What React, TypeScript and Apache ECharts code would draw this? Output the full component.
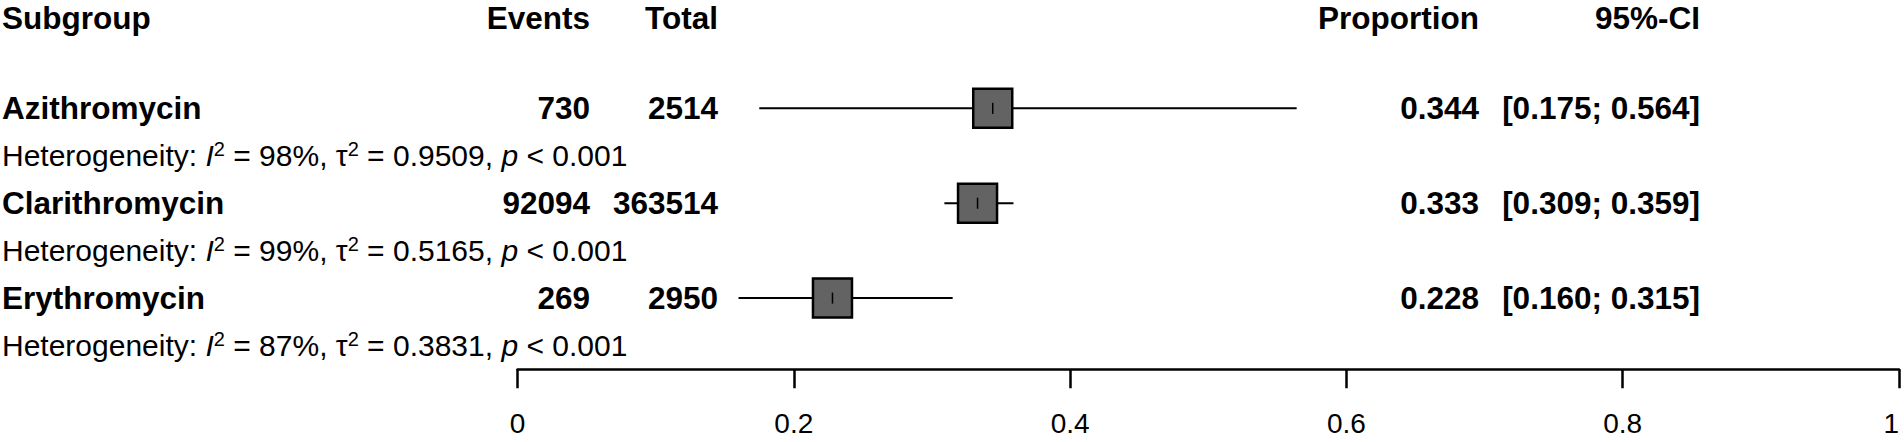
import React, { useEffect, useRef } from "react";
import * as echarts from "echarts";

// ---------- data ----------
const headerLabels = ["Subgroup", "Events", "Total", "Proportion", "95%-CI"];
const subgroups = ["Azithromycin", "Clarithromycin", "Erythromycin"];
const events = [730, 92094, 269];
const totals = [2514, 363514, 2950];
const proportions = [0.344, 0.333, 0.228];
const ciLower = [0.175, 0.309, 0.16];
const ciUpper = [0.564, 0.359, 0.315];
const i2Values = ["98%", "99%", "87%"];
const tau2Values = ["0.9509", "0.5165", "0.3831"];
const pValues = ["< 0.001", "< 0.001", "< 0.001"];

// ---------- layout / style ----------
const FONT = '"Liberation Sans", Arial, Helvetica, sans-serif';
const BOLD_SIZE = 31.5;
const REG_SIZE = 30;
const AXIS_SIZE = 28;
const COL_X = [2, 590, 718, 1479, 1700]; // label (left), events/total/prop/ci (right)
const COL_ALIGN = ["left", "right", "right", "right", "right"];
const HEADER_OFFSET = 4.5;
const BOX = 39;
const BOX_FILL = "#636363";

export default function App() {
  const ref = useRef<HTMLDivElement>(null);

  useEffect(() => {
    document.body.style.margin = "0";
    if (!ref.current) return;
    const chart = echarts.init(ref.current, undefined, { renderer: "svg" });

    const textEl = (x: number, y: number, text: string, align: string, bold = true) => ({
      type: "text",
      x,
      y,
      style: {
        text,
        fill: "#000",
        fontFamily: FONT,
        fontSize: bold ? BOLD_SIZE : REG_SIZE,
        fontWeight: bold ? "bold" : "normal",
        lineHeight: 26,
        align,
        verticalAlign: "middle",
      },
    });

    const rowData = subgroups.map((_, i) => [proportions[i], 2 + 2 * i, i]);

    const option = {
      animation: false,
      backgroundColor: "#fff",
      grid: {
        left: 517.5,
        right: 5,
        top: 13.5,
        bottom: 72.75,
        containLabel: false,
        outerBoundsMode: "none",
      },
      xAxis: {
        type: "value",
        min: 0,
        max: 1,
        interval: 0.2,
        position: "bottom",
        splitLine: { show: false },
        axisLine: { show: true, onZero: false, lineStyle: { color: "#000", width: 2.5 } },
        axisTick: { show: true, length: 19, lineStyle: { color: "#000", width: 2.5 } },
        axisLabel: {
          color: "#000",
          fontSize: AXIS_SIZE,
          fontFamily: FONT,
          margin: 40,
          showMinLabel: true,
          showMaxLabel: true,
          alignMaxLabel: "right",
        },
      },
      yAxis: {
        type: "value",
        min: 0,
        max: 7.5,
        inverse: true,
        show: false,
      },
      series: [
        {
          type: "custom",
          clip: false,
          data: [[0, 0]],
          renderItem: (params: any, api: any) => {
            const y = api.coord([0, 0])[1] + HEADER_OFFSET;
            return {
              type: "group",
              children: headerLabels.map((h, k) => textEl(COL_X[k], y, h, COL_ALIGN[k])),
            };
          },
        },
        {
          type: "custom",
          clip: false,
          data: rowData,
          renderItem: (params: any, api: any) => {
            const i = api.value(2);
            const line = api.value(1);
            const [px, y] = api.coord([api.value(0), line]);
            const lo = api.coord([ciLower[i], line])[0];
            const hi = api.coord([ciUpper[i], line])[0];
            const hetY = api.coord([0, line + 1])[1];
            const half = BOX / 2;
            const ciText = `[${ciLower[i].toFixed(3)}; ${ciUpper[i].toFixed(3)}]`;
            const het = `Heterogeneity: {it|I}{sup|2} = ${i2Values[i]}, τ{sup|2} = ${tau2Values[i]}, {it|p} ${pValues[i]}`;
            return {
              type: "group",
              children: [
                {
                  type: "line",
                  shape: { x1: lo, y1: y, x2: hi, y2: y },
                  style: { stroke: "#000", lineWidth: 2 },
                },
                {
                  type: "rect",
                  shape: { x: px - half, y: y - half, width: BOX, height: BOX },
                  style: { fill: BOX_FILL, stroke: "#000", lineWidth: 2.5 },
                },
                {
                  type: "line",
                  shape: { x1: px, y1: y - 5.5, x2: px, y2: y + 5.5 },
                  style: { stroke: "#000", lineWidth: 1.5 },
                },
                textEl(COL_X[0], y, subgroups[i], "left"),
                textEl(COL_X[1], y, String(events[i]), "right"),
                textEl(COL_X[2], y, String(totals[i]), "right"),
                textEl(COL_X[3], y, proportions[i].toFixed(3), "right"),
                textEl(COL_X[4], y, ciText, "right"),
                {
                  type: "text",
                  x: COL_X[0],
                  y: hetY,
                  style: {
                    text: het,
                    fill: "#000",
                    fontFamily: FONT,
                    fontSize: REG_SIZE,
                    lineHeight: 34,
                    align: "left",
                    verticalAlign: "middle",
                    rich: {
                      it: { fontStyle: "italic", fontSize: REG_SIZE, fontFamily: FONT, lineHeight: 34 },
                      sup: { fontSize: 20, fontFamily: FONT, lineHeight: 20, verticalAlign: "top" },
                    },
                  },
                },
              ],
            };
          },
        },
      ],
    };

    chart.setOption(option as any);
    return () => chart.dispose();
  }, []);

  return <div ref={ref} style={{ width: 1904, height: 442 }} />;
}
